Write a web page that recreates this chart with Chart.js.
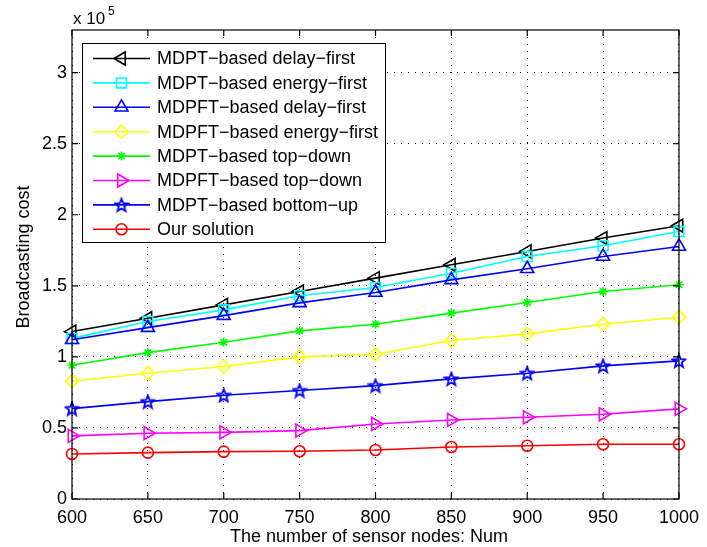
<!DOCTYPE html>
<html>
<head>
<meta charset="utf-8">
<script src="https://cdn.jsdelivr.net/npm/chart.js@4.4.1/dist/chart.umd.min.js"></script>
<style>
  html, body { margin: 0; padding: 0; background: #fff; }
  #wrap { width: 707px; height: 547px; }
</style>
</head>
<body>
<div id="wrap"><canvas id="costChart" width="707" height="547"></canvas></div>
<script>
// Number of sensor nodes (x axis)
const nodeCounts = [600, 650, 700, 750, 800, 850, 900, 950, 1000];

// Broadcasting cost, in units of 10^5
const mdptDelayFirst    = [1.178, 1.272, 1.366, 1.460, 1.554, 1.648, 1.742, 1.836, 1.923];
const mdptEnergyFirst   = [1.130, 1.249, 1.331, 1.430, 1.488, 1.589, 1.706, 1.782, 1.882];
const mdpftDelayFirst   = [1.120, 1.206, 1.290, 1.380, 1.453, 1.542, 1.620, 1.706, 1.777];
const mdpftEnergyFirst  = [0.829, 0.885, 0.932, 1.000, 1.019, 1.115, 1.162, 1.230, 1.279];
const mdptTopDown       = [0.941, 1.030, 1.103, 1.183, 1.230, 1.308, 1.383, 1.460, 1.507];
const mdpftTopDown      = [0.444, 0.463, 0.469, 0.481, 0.528, 0.556, 0.575, 0.596, 0.634];
const mdptBottomUp      = [0.636, 0.685, 0.730, 0.763, 0.798, 0.845, 0.885, 0.937, 0.972];
const ourSolution       = [0.317, 0.326, 0.333, 0.336, 0.345, 0.366, 0.375, 0.385, 0.385];

const seriesNames = [
    "MDPT\u2212based delay\u2212first",
    "MDPT\u2212based energy\u2212first",
    "MDPFT\u2212based delay\u2212first",
    "MDPFT\u2212based energy\u2212first",
    "MDPT\u2212based top\u2212down",
    "MDPFT\u2212based top\u2212down",
    "MDPT\u2212based bottom\u2212up",
    "Our solution"
];
const seriesValues = [mdptDelayFirst, mdptEnergyFirst, mdpftDelayFirst, mdpftEnergyFirst,
                      mdptTopDown, mdpftTopDown, mdptBottomUp, ourSolution];
const yTickStep = 0.5;
const yMax = 3.3;

const FONT = "'Liberation Sans', Arial, Helvetica, sans-serif";

// Pentagram marker (MATLAB 'p')
function makePentagram(color) {
    const c = document.createElement("canvas");
    c.width = 16; c.height = 16;
    const g = c.getContext("2d");
    g.strokeStyle = color;
    g.lineWidth = 1.8;
    g.lineJoin = "miter";
    g.beginPath();
    for (let i = 0; i < 10; i++) {
        const r = i % 2 === 0 ? 6.8 : 2.9;
        const a = -Math.PI / 2 + i * Math.PI / 5;
        const px = 8 + r * Math.cos(a), py = 8.6 + r * Math.sin(a);
        if (i === 0) g.moveTo(px, py); else g.lineTo(px, py);
    }
    g.closePath();
    g.stroke();
    return c;
}

const styles = [
    { color: "#000000", point: "triangle", rot: -90, r: 7.5 },
    { color: "#00ffff", point: "rect", rot: 0, r: 7 },
    { color: "#0000ff", point: "triangle", rot: 0, r: 7.5 },
    { color: "#ffff00", point: "rectRot", rot: 0, r: 6.5 },
    { color: "#00ff00", point: "star", rot: 0, r: 4.5 },
    { color: "#ff00ff", point: "triangle", rot: 90, r: 7.5 },
    { color: "#0000ff", point: makePentagram("#0000ff"), rot: 0, r: 6 },
    { color: "#ff0000", point: "circle", rot: 0, r: 5.5 }
];

const datasets = seriesValues.map((vals, i) => ({
    label: seriesNames[i],
    data: vals,
    borderColor: styles[i].color,
    backgroundColor: "rgba(0,0,0,0)",
    borderWidth: 1.6,
    pointStyle: styles[i].point,
    pointRotation: styles[i].rot,
    pointRadius: styles[i].r,
    pointBorderWidth: 1.6,
    pointBorderColor: styles[i].color,
    pointBackgroundColor: "rgba(0,0,0,0)",
    tension: 0,
    order: seriesValues.length - i
}));

// Box, inward ticks, legend, titles
const matlabFrame = {
    id: "matlabFrame",
    afterDraw(chart) {
        const ctx = chart.ctx;
        const a = chart.chartArea;
        const xs = chart.scales.x, ys = chart.scales.y;
        ctx.save();
        ctx.strokeStyle = "#000";
        ctx.lineWidth = 1.2;
        ctx.strokeRect(a.left, a.top, a.right - a.left, a.bottom - a.top);
        ctx.beginPath();
        const tl = 6;
        xs.ticks.forEach((t, i) => {
            const x = xs.getPixelForTick(i);
            ctx.moveTo(x, a.bottom); ctx.lineTo(x, a.bottom - tl);
            ctx.moveTo(x, a.top); ctx.lineTo(x, a.top + tl);
        });
        ys.ticks.forEach(t => {
            const y = ys.getPixelForValue(t.value);
            ctx.moveTo(a.left, y); ctx.lineTo(a.left + tl, y);
            ctx.moveTo(a.right, y); ctx.lineTo(a.right - tl, y);
        });
        ctx.stroke();

        // legend
        const lx = 82, ly = 43, lw = 303, lh = 199;
        ctx.fillStyle = "#fff";
        ctx.fillRect(lx, ly, lw, lh);
        ctx.lineWidth = 1;
        ctx.strokeRect(lx + 0.5, ly + 0.5, lw, lh);
        ctx.font = "18px " + FONT;
        ctx.textBaseline = "middle";
        ctx.textAlign = "left";
        seriesNames.forEach((name, i) => {
            const y = 58.5 + i * 24.4;
            const st = styles[i];
            ctx.strokeStyle = st.color;
            ctx.lineWidth = 1.6;
            ctx.beginPath();
            ctx.moveTo(93, y); ctx.lineTo(150, y);
            ctx.stroke();
            ctx.fillStyle = "rgba(0,0,0,0)";
            Chart.helpers.drawPoint(ctx, {
                pointStyle: st.point, radius: st.r, rotation: st.rot, borderWidth: 1.6
            }, 121.5, y);
            ctx.fillStyle = "#000";
            ctx.fillText(name, 157, y + 1);
        });

        // titles
        ctx.fillStyle = "#000";
        ctx.textAlign = "center";
        ctx.textBaseline = "alphabetic";
        ctx.font = "18px " + FONT;
        ctx.fillText("The number of sensor nodes: Num", 369, 542);
        ctx.save();
        ctx.translate(29, 257);
        ctx.rotate(-Math.PI / 2);
        ctx.fillText("Broadcasting cost", 0, 0);
        ctx.restore();
        ctx.textAlign = "left";
        ctx.font = "17px " + FONT;
        ctx.fillText("x 10", 73, 24);
        ctx.font = "12px " + FONT;
        ctx.fillText("5", 108, 15);
        ctx.restore();
    }
};

const ctx = document.getElementById("costChart").getContext("2d");

new Chart(ctx, {
    type: "line",
    data: { labels: nodeCounts, datasets: datasets },
    plugins: [matlabFrame],
    options: {
        responsive: false,
        animation: false,
        layout: { padding: { top: 30, right: 27, left: 0, bottom: 0 } },
        plugins: { legend: { display: false }, tooltip: { enabled: false } },
        scales: {
            x: {
                type: "category",
                offset: false,
                afterFit(scale) { scale.height = 48; },
                grid: { color: "#000", lineWidth: 1, drawTicks: false },
                border: { display: false, dash: [1, 6] },
                ticks: {
                    color: "#000", font: { family: FONT, size: 18 },
                    padding: 8, autoSkip: false, maxRotation: 0
                }
            },
            y: {
                min: 0, max: yMax,
                afterFit(scale) { scale.width = 72; },
                grid: { color: "#000", lineWidth: 1, drawTicks: false },
                border: { display: false, dash: [1, 6] },
                ticks: {
                    stepSize: yTickStep, includeBounds: false,
                    color: "#000", font: { family: FONT, size: 18 },
                    padding: 5,
                    callback: v => String(v)
                }
            }
        }
    }
});
</script>
</body>
</html>
